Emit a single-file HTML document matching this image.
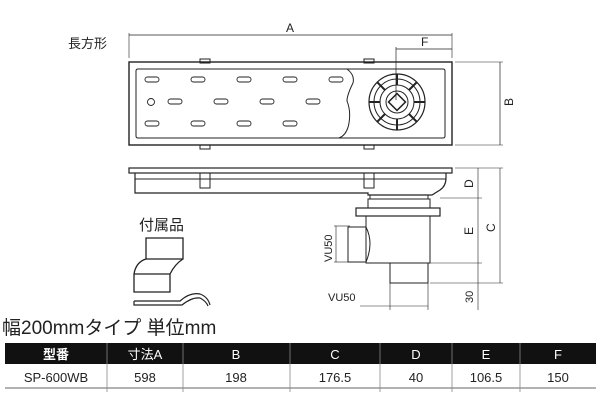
<!DOCTYPE html>
<html><head><meta charset="utf-8"><style>
body{margin:0;width:600px;height:400px;background:#fff;overflow:hidden;font-family:"Liberation Sans","Noto Sans CJK JP",sans-serif;}
svg{position:absolute;left:0;top:0}
text{font-family:"Liberation Sans","Noto Sans CJK JP",sans-serif;fill:#222}
</style></head><body>
<svg width="600" height="400" viewBox="0 0 600 400">
<g fill="none" stroke="#222" stroke-width="1">
<!-- top view -->
<text x="68" y="48" font-size="13" stroke="none">長方形</text>
<line x1="129" y1="35" x2="452" y2="35" stroke-width="0.7"/>
<line x1="129" y1="33" x2="129" y2="58" stroke-width="0.6"/>
<line x1="452" y1="33" x2="452" y2="58" stroke-width="0.6"/>
<line x1="396" y1="49" x2="452" y2="49" stroke-width="0.7"/>
<line x1="396" y1="47" x2="396" y2="100" stroke-width="0.7"/>
<rect x="200" y="59" width="10" height="4"/><rect x="364" y="59" width="10" height="4"/>
<rect x="200" y="145" width="10" height="4"/><rect x="364" y="145" width="10" height="4"/>
<rect x="129" y="62" width="323" height="83" stroke-width="1.4"/>
<path d="M136 71 q0-2 2-2 H347 q8 6 6 14 q-6 12-6 18 q4 10 2 22 q-2 12 -10 15 H138 q-2 0-2-2 Z"/>
<path d="M347 69 H443 q2 0 2 2 V136 q0 2-2 2 H339"/>
<g stroke-width="0.9">
<rect x="145" y="77" width="14" height="5" rx="2.5"/><rect x="191" y="77" width="14" height="5" rx="2.5"/><rect x="237" y="77" width="14" height="5" rx="2.5"/><rect x="283" y="77" width="14" height="5" rx="2.5"/><rect x="329" y="77" width="14" height="5" rx="2.5"/>
<circle cx="151" cy="102" r="3.5"/>
<rect x="168" y="99" width="14" height="5" rx="2.5"/><rect x="214" y="99" width="14" height="5" rx="2.5"/><rect x="260" y="99" width="14" height="5" rx="2.5"/><rect x="306" y="99" width="14" height="5" rx="2.5"/>
<rect x="145" y="121" width="14" height="5" rx="2.5"/><rect x="191" y="121" width="14" height="5" rx="2.5"/><rect x="237" y="121" width="14" height="5" rx="2.5"/><rect x="283" y="121" width="14" height="5" rx="2.5"/>
</g>
<circle cx="397" cy="102" r="28" stroke-width="1.2"/>
<circle cx="397" cy="102" r="23"/><circle cx="397" cy="102" r="17"/><circle cx="397" cy="102" r="11"/>
<rect x="391" y="96" width="12" height="12" transform="rotate(45 397 102)" stroke-width="1.5"/>
<g stroke-width="2">
<line x1="397" y1="74" x2="397" y2="85"/><line x1="397" y1="119" x2="397" y2="130"/><line x1="369" y1="102" x2="380" y2="102"/><line x1="414" y1="102" x2="425" y2="102"/>
<line x1="377" y1="82" x2="385" y2="90"/><line x1="417" y1="82" x2="409" y2="90"/><line x1="377" y1="122" x2="385" y2="114"/><line x1="417" y1="122" x2="409" y2="114"/>
</g>
<line x1="455" y1="62" x2="503" y2="62" stroke-width="0.6"/>
<line x1="455" y1="145" x2="503" y2="145" stroke-width="0.6"/>
<line x1="500" y1="62" x2="500" y2="145" stroke-width="0.7"/>
<!-- side view -->
<rect x="129" y="168" width="323" height="5" stroke-width="1.2"/>
<path d="M135 173 V193 H368 V195 H432 L440 190 Q446 186 446 178 V173" stroke-width="1.2"/>
<line x1="135" y1="179" x2="446" y2="179"/>
<rect x="200" y="173" width="10" height="15"/><rect x="364" y="173" width="10" height="15"/>
<rect x="370" y="195" width="58" height="4"/><rect x="368" y="199" width="62" height="9"/>
<rect x="356" y="208" width="84" height="8" stroke-width="1.2"/>
<path d="M366 216 V263 H430 V216"/>
<path d="M348 227 H366 q8 16 0 35 H348 Z"/>
<rect x="390" y="263" width="38" height="20"/>
<g stroke-width="0.6">
<line x1="455" y1="168" x2="503" y2="168"/><line x1="440" y1="198" x2="482" y2="198"/>
<line x1="430" y1="263" x2="482" y2="263"/><line x1="430" y1="283" x2="503" y2="283"/>
<line x1="478" y1="168" x2="478" y2="310"/><line x1="500" y1="168" x2="500" y2="283"/>
<line x1="334" y1="226" x2="350" y2="226"/><line x1="334" y1="262" x2="350" y2="262"/><line x1="336" y1="226" x2="336" y2="262"/>
<line x1="390" y1="283" x2="390" y2="310"/><line x1="428" y1="283" x2="428" y2="310"/><line x1="360" y1="306" x2="428" y2="306"/>
</g>
<!-- accessories -->
<path d="M146 238 H183 V259 Q175 264 170 274 V292 H134 V274 Q136 262 146 259 Z" stroke-width="1.3"/>
<line x1="146" y1="259" x2="183" y2="259" stroke-width="1.2"/>
<line x1="134" y1="274" x2="170" y2="274" stroke-width="1.2"/>
<path d="M134 301 H180 Q190 292 200 294 Q208 297 210 305 M134 301 V305 H182 Q192 297 200 298 Q206 301 208 306" stroke-width="1.2"/>
</g>
<g font-size="12" fill="#222">
<text x="286" y="32">A</text><text x="421" y="46">F</text>
<text transform="translate(513 106) rotate(-90)">B</text>
<text transform="translate(473 188) rotate(-90)">D</text>
<text transform="translate(473 235) rotate(-90)">E</text>
<text transform="translate(495 232) rotate(-90)">C</text>
<text transform="translate(473 303) rotate(-90)" font-size="11">30</text>
<text transform="translate(332 262) rotate(-90)" font-size="11">VU50</text>
<text x="328" y="301" font-size="11">VU50</text>
<text x="139" y="230" font-size="15">付属品</text>
<text x="2" y="334" font-size="19">幅200mmタイプ  単位mm</text>
</g>
<rect x="5" y="343" width="591" height="21" fill="#111"/>
<line x1="5" y1="388" x2="596" y2="388" stroke="#999" stroke-width="1.5"/>
<g stroke="#888" stroke-width="0.8">
<line x1="107" y1="343" x2="107" y2="392"/><line x1="183" y1="343" x2="183" y2="392"/><line x1="290" y1="343" x2="290" y2="392"/><line x1="380" y1="343" x2="380" y2="392"/><line x1="452" y1="343" x2="452" y2="392"/><line x1="520" y1="343" x2="520" y2="392"/>
</g>
<g font-size="13" text-anchor="middle">
<text x="56" y="359" style="fill:#fff;font-weight:bold">型番</text><text x="145" y="359" style="fill:#fff">寸法A</text><text x="236" y="359" style="fill:#fff">B</text><text x="335" y="359" style="fill:#fff">C</text><text x="416" y="359" style="fill:#fff">D</text><text x="486" y="359" style="fill:#fff">E</text><text x="558" y="359" style="fill:#fff">F</text>
<text x="56" y="382">SP-600WB</text><text x="145" y="382">598</text><text x="236" y="382">198</text><text x="335" y="382">176.5</text><text x="416" y="382">40</text><text x="486" y="382">106.5</text><text x="558" y="382">150</text>
</g>
</svg>
</body></html>
